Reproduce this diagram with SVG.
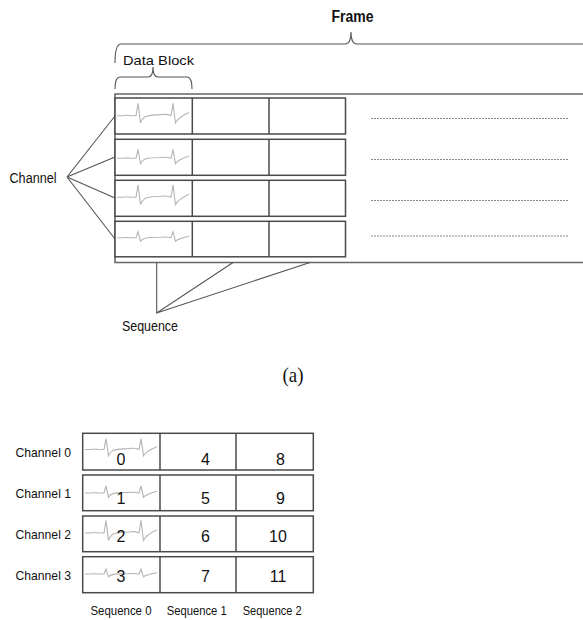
<svg xmlns="http://www.w3.org/2000/svg" xmlns:xlink="http://www.w3.org/1999/xlink" width="583" height="620" viewBox="0 0 583 620">
<style>
.box{fill:#fff;stroke:#4a4a4a;stroke-width:1.5}
.frame{fill:none;stroke:#666;stroke-width:1.6}
.ln{fill:none;stroke:#555;stroke-width:1.1}
.dot{fill:none;stroke:#888;stroke-width:1;stroke-dasharray:2 1}
.ecg{fill:none;stroke:#b5b5b5;stroke-width:1.1;vector-effect:non-scaling-stroke}
.mono{font-family:"Liberation Sans",Arial,sans-serif;fill:#111}
.num{font-family:"Liberation Sans",Arial,sans-serif;font-size:16px;fill:#111;text-anchor:middle}
</style>
<defs>
<path id="wave" class="ecg" d="M0,0 L6,0 Q10,-1 14,0 L19,0 L21,-12 L23.5,7 Q25,3 28,1 Q34,-1 44,-1 Q50,-2 54,0 L56,-12 L58.5,7 Q61,2 72,-3"/>
</defs>
<rect width="583" height="620" fill="#fff"/>

<g id="top-labels">
<text class="mono" x="352.5" y="21.5" font-size="16" font-weight="bold" text-anchor="middle" textLength="42" lengthAdjust="spacingAndGlyphs">Frame</text>
<text class="mono" x="123" y="64.5" font-size="13" textLength="71" lengthAdjust="spacingAndGlyphs">Data Block</text>
<text class="mono" x="9.5" y="182.5" font-size="14" textLength="47" lengthAdjust="spacingAndGlyphs">Channel</text>
<text class="mono" x="122" y="331" font-size="14" textLength="56" lengthAdjust="spacingAndGlyphs">Sequence</text>
<text x="293" y="382" font-family="Liberation Serif,'Times New Roman',serif" font-size="22" text-anchor="middle" textLength="21" lengthAdjust="spacingAndGlyphs" fill="#111">(a)</text>
</g>

<g id="braces">
<path class="ln" d="M115,63 Q115,44 121,44 L345,44 Q351,44 351,32 Q351,44 357,44 L590,44"/>
<path class="ln" d="M115,89 Q115,77 120,77 L148,77 Q153,77 153,67 Q153,77 158,77 L187,77 Q192,77 192,89"/>
</g>

<g id="frame">
<path class="frame" d="M590,94 L115,94 L115,262.5 L590,262.5"/>
</g>

<g id="top-row-1">
<rect class="box" x="115" y="98" width="230.5" height="36"/>
<line class="box" x1="192.3" y1="98" x2="192.3" y2="134"/>
<line class="box" x1="269" y1="98" x2="269" y2="134"/>
<use xlink:href="#wave" transform="translate(117,115.7) scale(1,1.03)"/>
<line class="dot" x1="371" y1="118.5" x2="568" y2="118.5"/>
</g>
<g id="top-row-2">
<rect class="box" x="115" y="139.3" width="230.5" height="36"/>
<line class="box" x1="192.3" y1="139.3" x2="192.3" y2="175.3"/>
<line class="box" x1="269" y1="139.3" x2="269" y2="175.3"/>
<use xlink:href="#wave" transform="translate(117,158.3) scale(1,0.75)"/>
<line class="dot" x1="371" y1="159.5" x2="568" y2="159.5"/>
</g>
<g id="top-row-3">
<rect class="box" x="115" y="180.3" width="230.5" height="36"/>
<line class="box" x1="192.3" y1="180.3" x2="192.3" y2="216.3"/>
<line class="box" x1="269" y1="180.3" x2="269" y2="216.3"/>
<use xlink:href="#wave" transform="translate(117,197.3) scale(1,1.03)"/>
<line class="dot" x1="371" y1="200.5" x2="568" y2="200.5"/>
</g>
<g id="top-row-4">
<rect class="box" x="115" y="221.3" width="230.5" height="35.5"/>
<line class="box" x1="192.3" y1="221.3" x2="192.3" y2="256.8"/>
<line class="box" x1="269" y1="221.3" x2="269" y2="256.8"/>
<use xlink:href="#wave" transform="translate(117,237.7) scale(1,0.5)"/>
<line class="dot" x1="371" y1="236" x2="568" y2="236"/>
</g>

<g id="connectors">
<path class="ln" d="M67,177 L115,116 M67,177 L115,157 M67,177 L115,198 M67,177 L115,239"/>
<path class="ln" d="M156.7,262.5 L156.7,313 L233,262.5 M156.7,313 L310,262.5"/>
</g>

<g id="table-b">
<g id="b-row-0">
<text class="mono" x="15.5" y="456.5" font-size="13.5" textLength="55.5" lengthAdjust="spacingAndGlyphs">Channel 0</text>
<rect class="box" x="82.7" y="433.3" width="230.6" height="36.7"/>
<line class="box" x1="160" y1="433.3" x2="160" y2="470"/>
<line class="box" x1="236" y1="433.3" x2="236" y2="470"/>
<use xlink:href="#wave" transform="translate(85,449.5) scale(1,0.9)"/>
<text class="num" x="121" y="464.5">0</text>
<text class="num" x="205.5" y="464.5">4</text>
<text class="num" x="280.5" y="464.5">8</text>
</g>
<g id="b-row-1">
<text class="mono" x="15.5" y="497.5" font-size="13.5" textLength="55.5" lengthAdjust="spacingAndGlyphs">Channel 1</text>
<rect class="box" x="82.7" y="475" width="230.6" height="35.7"/>
<line class="box" x1="160" y1="475" x2="160" y2="510.7"/>
<line class="box" x1="236" y1="475" x2="236" y2="510.7"/>
<use xlink:href="#wave" transform="translate(85,493) scale(1,0.6)"/>
<text class="num" x="121" y="503.8">1</text>
<text class="num" x="205.5" y="503.8">5</text>
<text class="num" x="280.5" y="503.8">9</text>
</g>
<g id="b-row-2">
<text class="mono" x="15.5" y="538.5" font-size="13.5" textLength="55.5" lengthAdjust="spacingAndGlyphs">Channel 2</text>
<rect class="box" x="82.7" y="516" width="230.6" height="35.7"/>
<line class="box" x1="160" y1="516" x2="160" y2="551.7"/>
<line class="box" x1="236" y1="516" x2="236" y2="551.7"/>
<use xlink:href="#wave" transform="translate(85,533) scale(1,1.05)"/>
<text class="num" x="121" y="542.2">2</text>
<text class="num" x="205.5" y="542.2">6</text>
<text class="num" x="278" y="542.2">10</text>
</g>
<g id="b-row-3">
<text class="mono" x="15.5" y="579.5" font-size="13.5" textLength="55.5" lengthAdjust="spacingAndGlyphs">Channel 3</text>
<rect class="box" x="82.7" y="556.7" width="230.6" height="36"/>
<line class="box" x1="160" y1="556.7" x2="160" y2="592.7"/>
<line class="box" x1="236" y1="556.7" x2="236" y2="592.7"/>
<use xlink:href="#wave" transform="translate(85,574) scale(1,0.4)"/>
<text class="num" x="121" y="581.5">3</text>
<text class="num" x="205.5" y="581.5">7</text>
<text class="num" x="278" y="581.5">11</text>
</g>
<g id="b-seq-labels">
<text class="mono" x="121" y="615" font-size="12.5" text-anchor="middle" textLength="61" lengthAdjust="spacingAndGlyphs">Sequence 0</text>
<text class="mono" x="196.7" y="615" font-size="12.5" text-anchor="middle" textLength="60" lengthAdjust="spacingAndGlyphs">Sequence 1</text>
<text class="mono" x="272.2" y="615" font-size="12.5" text-anchor="middle" textLength="59" lengthAdjust="spacingAndGlyphs">Sequence 2</text>
</g>
</g>
</svg>
